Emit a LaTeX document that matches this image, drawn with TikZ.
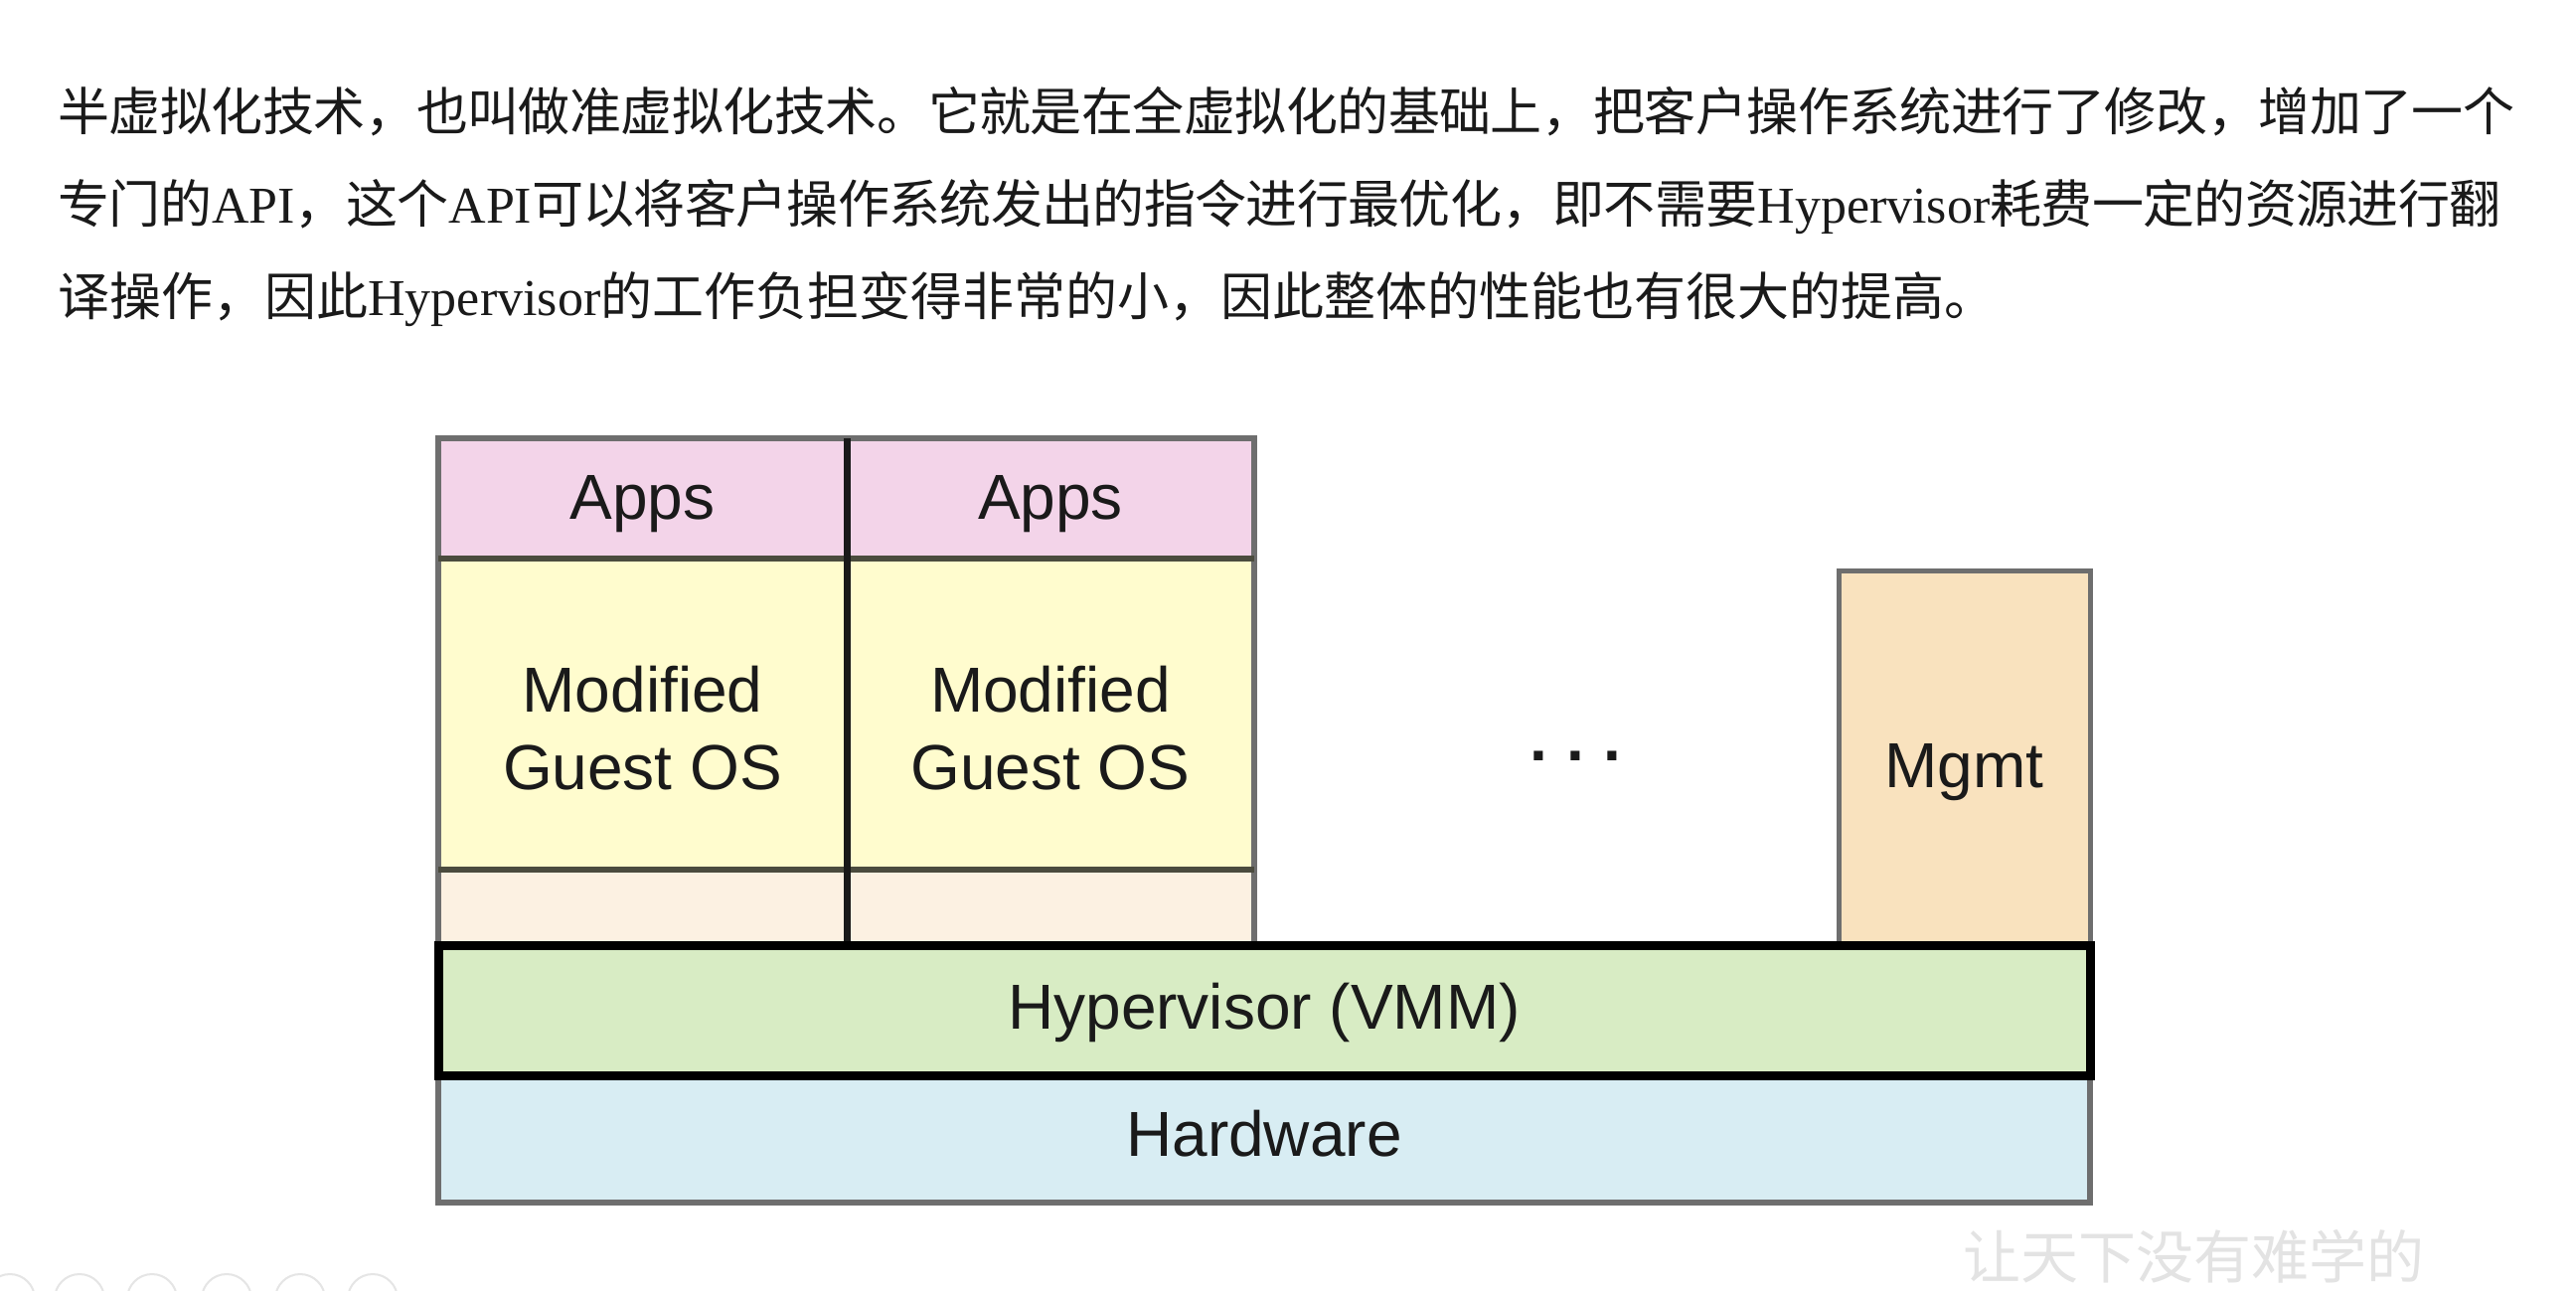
\documentclass[tikz,border=0pt]{standalone}
\usepackage{fontspec}
\setmainfont{Liberation Sans}
\newfontfamily\cjk{Noto Sans CJK SC}
\newfontfamily\latser{Liberation Serif}
\definecolor{appspink}{RGB}{243,212,233}
\definecolor{osyellow}{RGB}{255,252,206}
\definecolor{basebeige}{RGB}{252,241,226}
\definecolor{mgmtorange}{RGB}{249,226,190}
\definecolor{hypgreen}{RGB}{216,236,196}
\definecolor{hwblue}{RGB}{216,237,243}
\definecolor{bordergray}{RGB}{110,110,110}
\definecolor{innerline}{RGB}{75,75,62}
\definecolor{inktext}{RGB}{26,26,26}
\newcommand\parafont{\cjk\fontsize{26}{30}\selectfont}
\newcommand\jline[2]{\parbox[b]{#1}{\parindent=0pt\parfillskip=0pt\XeTeXlinebreaklocale "zh"\XeTeXlinebreakskip=0pt plus 20pt minus 1.5pt\parafont #2}}
\tikzset{
  cell/.style={draw=bordergray, line width=3pt, inner sep=0pt, outer sep=0pt},
  lbl/.style={anchor=base, inner sep=0pt, text=inktext, font=\fontsize{32}{38}\selectfont},
  para/.style={anchor=base west, inner sep=0pt, text=inktext},
}
\begin{document}
\begin{tikzpicture}[x=0.5pt,y=-0.5pt]
\useasboundingbox (0,0) rectangle (2592,1298);
\fill[white] (0,0) rectangle (2592,1298);
\clip (0,0) rectangle (2592,1298);

% paragraph
\node[para] (l1) at (58,131) {\jline{1236pt}{半虚拟化技术，也叫做准虚拟化技术。它就是在全虚拟化的基础上，把客户操作系统进行了修改，增加了一个}};
\node[para] (l2) at (58,224) {\jline{1229pt}{专门的{\latser API}，这个{\latser API}可以将客户操作系统发出的指令进行最优化，即不需要{\latser Hypervisor}耗费一定的资源进行翻}};
\node[para, font=\parafont] (l3) at (58,317) {译操作，因此{\latser Hypervisor}的工作负担变得非常的小，因此整体的性能也有很大的提高。};

% VM boxes
\node[cell, fill=appspink, minimum width=205.5pt, minimum height=60.5pt] (apps1) at (646.5,501.5) {};
\node[cell, fill=appspink, minimum width=205pt, minimum height=60.5pt] (apps2) at (1057,501.5) {};
\node[cell, fill=osyellow, minimum width=205.5pt, minimum height=156.5pt] (os1) at (646.5,718.5) {};
\node[cell, fill=osyellow, minimum width=205pt, minimum height=156.5pt] (os2) at (1057,718.5) {};
\node[cell, fill=basebeige, minimum width=205.5pt, minimum height=38pt] (base1) at (646.5,913) {};
\node[cell, fill=basebeige, minimum width=205pt, minimum height=38pt] (base2) at (1057,913) {};
\draw[innerline, line width=3pt] (apps1.south west) -- (apps2.south east);
\draw[innerline, line width=3pt] (os1.south west) -- (os2.south east);
\draw[black!90, line width=3.5pt] (apps1.north east) -- (base1.south east);

% Mgmt
\node[cell, line width=2.5pt, fill=mgmtorange, minimum width=126.5pt, minimum height=188.5pt] (mgmt) at (1976.5,762.5) {};

% Hardware and hypervisor
\node[cell, fill=hwblue, minimum width=831pt, minimum height=64pt] (hw) at (1272,1146) {};
\node[cell, draw=black, line width=4.5pt, fill=hypgreen, minimum width=831pt, minimum height=65.5pt] (hyp) at (1272,1016.5) {};

% labels
\node[lbl] (tapps1) at (646.5,522) {Apps};
\node[lbl] (tapps2) at (1057,522) {Apps};
\node[lbl] (tmod1) at (646.5,716) {Modified};
\node[lbl] (tgos1) at (646.5,794) {Guest OS};
\node[lbl] (tmod2) at (1057,716) {Modified};
\node[lbl] (tgos2) at (1057,794) {Guest OS};
\node[lbl, font=\bfseries\fontsize{32}{38}\selectfont] (tdots) at (1585,765) {.\kern0.3em.\kern0.3em.};
\node[lbl] (tmgmt) at (1976.5,792) {Mgmt};
\node[lbl] (thyp) at (1272,1035) {Hypervisor (VMM)};
\node[lbl] (thw) at (1272,1163) {Hardware};

% faint screen artefacts: watermark and player icons
\node[anchor=base west, inner sep=0pt, text=gray!22, font=\cjk\fontsize{29}{30}\selectfont] (wm) at (1975,1286) {让天下没有难学的};
\foreach \cx in {10,80,153,228,302,375}
  \draw[gray!20, line width=1pt] (\cx,1307) circle[radius=25];
\end{tikzpicture}
\end{document}
